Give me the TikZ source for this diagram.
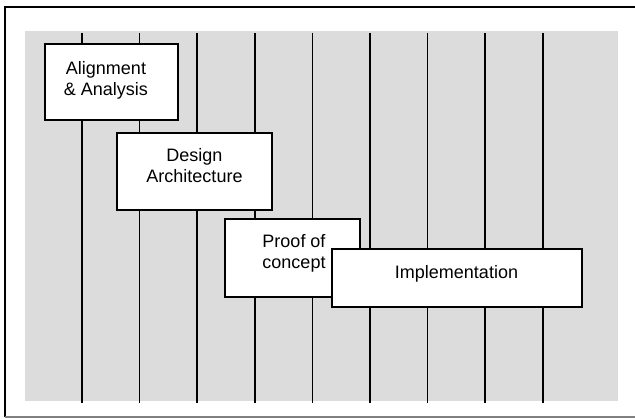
\documentclass[tikz,border=0pt]{standalone}
\usepackage{fontspec}
\setmainfont{Liberation Sans}
\usetikzlibrary{positioning}
\definecolor{panelgray}{RGB}{220,220,220}
\tikzset{
  phase/.style={draw=black, line width=1.6pt, fill=white, rectangle, inner sep=0pt},
  phasetext/.style={font=\fontsize{18}{21}\selectfont, align=center, inner sep=0pt},
  timeline/.style={line width=1.6pt, black}
}

\begin{document}
\begin{tikzpicture}[x=1pt,y=-1pt]
\useasboundingbox (0,0) rectangle (635,418);
% Frame
\draw[line width=2pt] (5,417) -- (5,7) -- (635,7);
\draw[line width=1.5pt, gray] (5,417) -- (635,417);
% Grey panel
\fill[panelgray] (25,31) rectangle (618,401);
% Vertical time lines
\foreach \i in {0,...,8} {
  \draw[timeline] (82+57.6*\i,33) -- (82+57.6*\i,403);
}
% Phases
\node[phase, minimum width=133pt, minimum height=76pt] (align) at (111.5,82) {};
\node[phasetext] (aligntxt) at (106,80) {Alignment\\\& Analysis};
\node[phase, minimum width=155pt, minimum height=77pt] (design) at (194.5,171.5) {};
\node[phasetext] (designtxt) at (194.5,166) {Design\\Architecture};
\node[phase, minimum width=135pt, minimum height=78pt] (proof) at (292.5,258) {};
\node[phasetext] (prooftxt) at (294,253) {Proof of\\concept};
\node[phase, minimum width=250pt, minimum height=58pt] (impl) at (457,278) {};
\node[phasetext] (impltxt) at (456.5,274) {Implementation};
\end{tikzpicture}
\end{document}
